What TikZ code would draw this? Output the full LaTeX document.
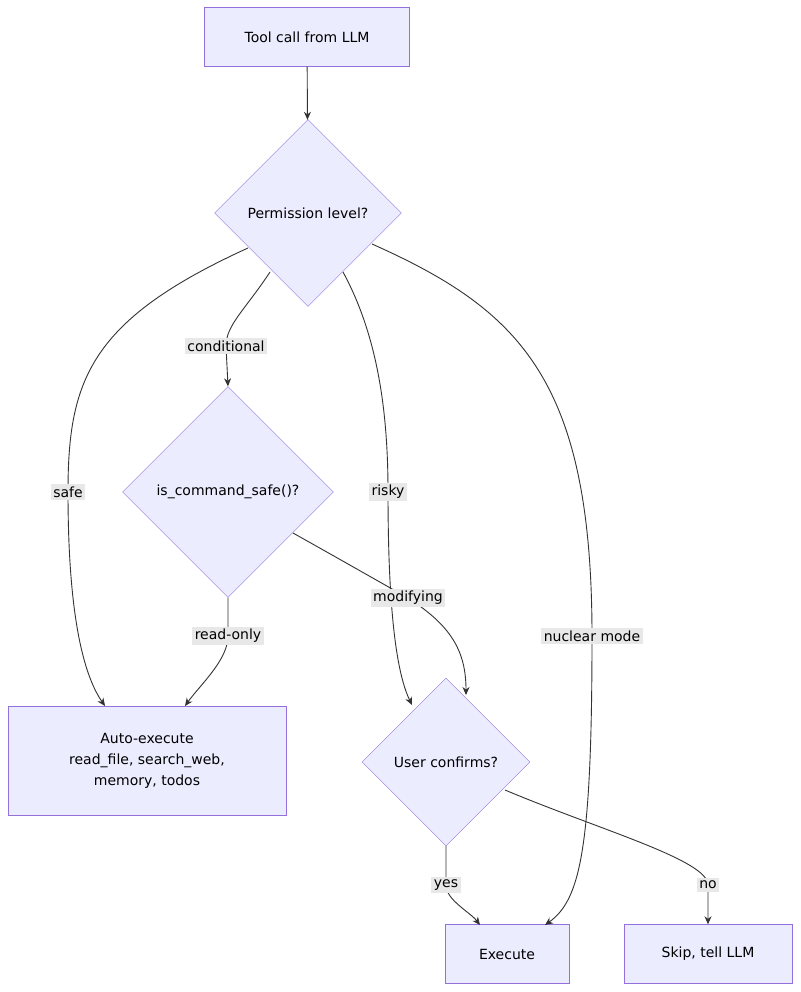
\documentclass[tikz,border=0pt]{standalone}
\usepackage{fontspec}
\setmainfont{DejaVu Sans}
\usetikzlibrary{shapes.geometric,arrows.meta}

\definecolor{nodefill}{HTML}{ECECFF}
\definecolor{nodeline}{HTML}{9370DB}
\definecolor{lblfill}{HTML}{E8E8E8}
\tikzset{
  box/.style={draw=nodeline, fill=nodefill, minimum height=59pt, align=center, font=\fontsize{14}{21}\selectfont},
  choice/.style={diamond, draw=nodeline, fill=nodefill, aspect=1, inner sep=0pt, font=\fontsize{14}{16}\selectfont},
  lbl/.style={fill=lblfill, inner sep=2.5pt, font=\fontsize{14}{16}\selectfont},
  arr/.style={-{Stealth[length=8pt,width=7pt]}, draw=black!80, line width=0.9pt}
}

\begin{document}
\begin{tikzpicture}[x=1pt,y=-1pt]
  \useasboundingbox (0,0) rectangle (800,992);
  \fill[white] (0,0) rectangle (800,992);
  % nodes
  \node[box, minimum width=205pt] (tool) at (307,37) {Tool call from LLM};
  \node[choice, minimum size=187pt] (perm) at (308,213) {Permission level?};
  \node[choice, minimum size=211pt] (safe) at (228,492) {is\_command\_safe()?};
  \node[box, minimum width=278pt, minimum height=109pt] (auto) at (147,761) {Auto-execute\\read\_file, search\_web,\\memory, todos};
  \node[choice, minimum size=168pt] (user) at (446,762) {User confirms?};
  \node[box, minimum width=124pt] (exec) at (507,954) {Execute};
  \node[box, minimum width=168pt] (skip) at (708,954) {Skip, tell LLM};
  % edges
  \draw[arr] (tool) -- (perm);
  \draw[arr] (248,248) .. controls (90,320) and (68,380) .. (68,492)
    node[lbl] {safe} .. controls (68,600) and (80,670) .. (105,706);
  \draw[arr] (270,272) .. controls (245,310) and (226,325) .. (226,346)
    node[lbl] {conditional} -- (safe.north);
  \draw[arr] (343,272) .. controls (380,340) and (388,420) .. (388,492)
    node[lbl] {risky} .. controls (388,600) and (395,670) .. (412,705);
  \draw[arr] (372,244) .. controls (520,310) and (592,380) .. (592,636)
    node[lbl] {nuclear mode} .. controls (592,850) and (580,900) .. (545,925);
  \draw[arr] (safe.south) -- (228,636) node[lbl] {read-only}
    .. controls (228,660) and (200,685) .. (185,706);
  \draw[arr] (293,533) .. controls (350,565) and (385,585) .. (408,598)
    node[lbl] {modifying} .. controls (450,625) and (466,650) .. (466,695);
  \draw[arr] (user.south) -- (446,885) node[lbl] {yes}
    .. controls (446,900) and (470,912) .. (480,925);
  \draw[arr] (505,790) .. controls (600,830) and (708,860) .. (708,885)
    node[lbl] {no} -- (skip.north);
\end{tikzpicture}
\end{document}
